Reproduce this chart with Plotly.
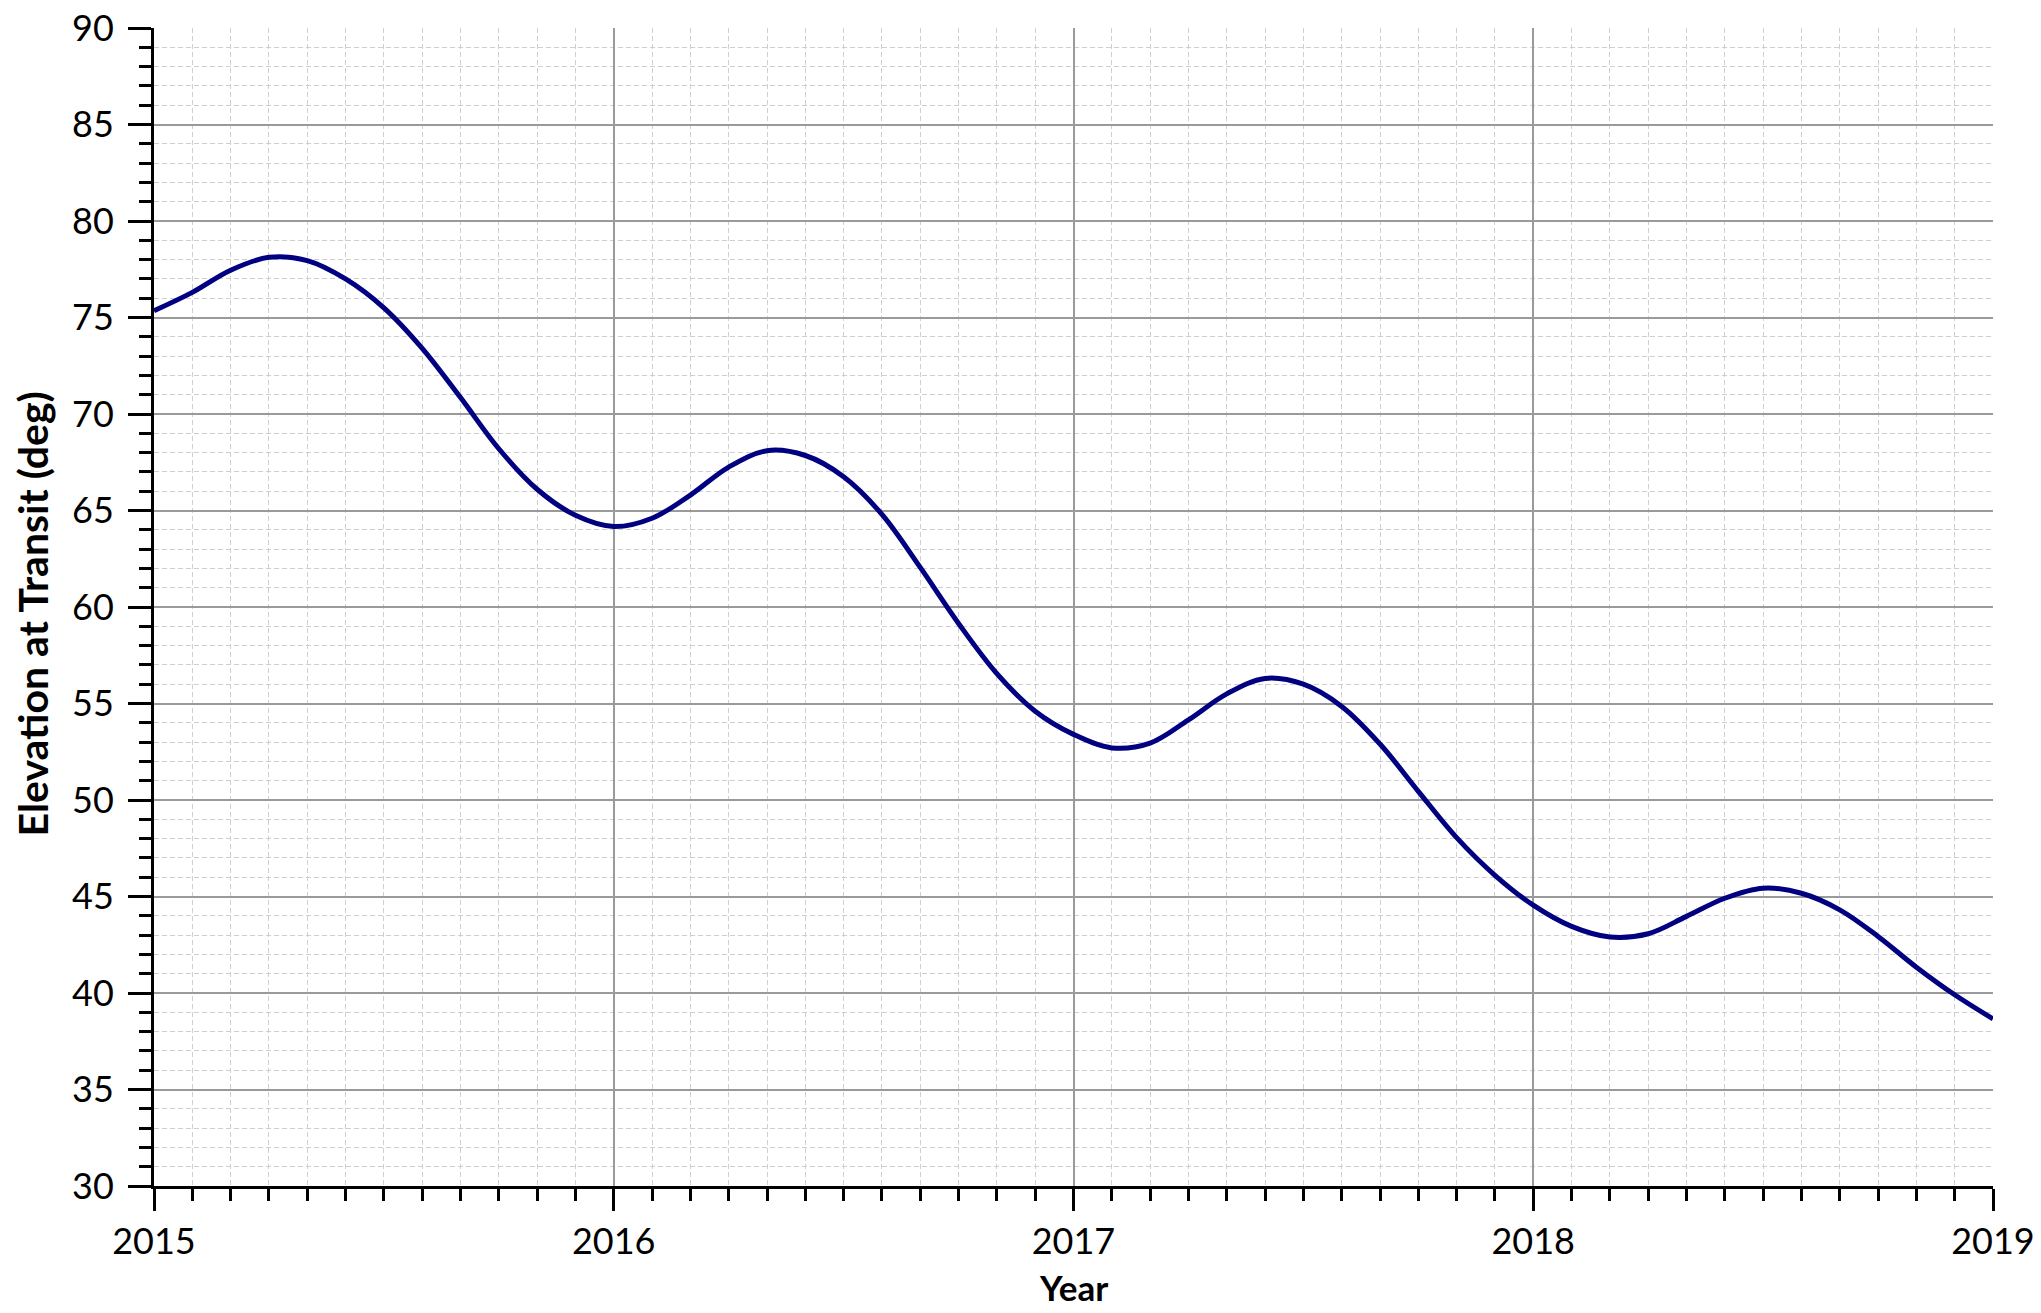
import plotly.graph_objects as go

# Decimal-year sample positions (monthly, Jan 2015 .. Jan 2019)
time_year = [round(2015 + i / 12, 5) for i in range(49)]

# Elevation at transit (deg) at monthly positions
elevation = [
    75.35, 76.3, 77.45, 78.12, 77.95, 77.0, 75.5, 73.4, 70.85, 68.2, 66.1, 64.75,
    64.17, 64.6, 65.8, 67.25, 68.1, 67.85, 66.75, 64.8, 62.05, 59.15, 56.55, 54.6,
    53.4, 52.7, 52.95, 54.15, 55.5, 56.3, 56.0, 54.85, 52.9, 50.45, 48.05, 46.1,
    44.55, 43.45, 42.9, 43.07, 43.97, 44.91, 45.43, 45.17, 44.31, 42.93, 41.34, 39.91,
    38.66,
]

x_tickvals = [2015, 2016, 2017, 2018, 2019]
x_ticktext = ["2015", "2016", "2017", "2018", "2019"]
y_tickvals = [30, 35, 40, 45, 50, 55, 60, 65, 70, 75, 80, 85, 90]
x_title = "Year"
y_title = "Elevation at Transit (deg)"

FONT = "Lato"

fig = go.Figure()
fig.add_trace(go.Scatter(
    x=time_year, y=elevation, mode="lines",
    line=dict(color="#000080", width=5, shape="spline", smoothing=1.0),
    hoverinfo="skip", showlegend=False,
))

# The page body adds an 8px offset; the figure is sized to compensate.
fig.update_layout(
    width=2033, height=1305,
    margin=dict(l=146, r=48, t=20, b=127, autoexpand=False),
    paper_bgcolor="white", plot_bgcolor="white",
    font=dict(family=FONT, color="black"),
    showlegend=False,
)

fig.update_xaxes(
    range=[2015, 2019], automargin=False,
    tickmode="array", tickvals=x_tickvals, ticktext=x_ticktext,
    ticks="outside", ticklen=22, tickwidth=3, tickcolor="black",
    tickfont=dict(family=FONT, size=36, color="black"),
    ticklabelstandoff=0, ticklabeloverflow="allow",
    showline=True, linecolor="black", linewidth=3,
    showgrid=True, gridcolor="#9a9a9a", gridwidth=1.5,
    zeroline=False,
    minor=dict(dtick=1 / 12, tick0=2015, ticks="outside", ticklen=12, tickwidth=3,
               tickcolor="black", showgrid=True, gridcolor="#cfcfcf", gridwidth=1,
               griddash="5px,3px"),
)

fig.update_yaxes(
    range=[30, 90], automargin=False,
    tickmode="array", tickvals=y_tickvals,
    ticks="outside", ticklen=23, tickwidth=3, tickcolor="black",
    tickfont=dict(family=FONT, size=36, color="black"),
    ticklabelstandoff=7, ticklabeloverflow="allow",
    showline=True, linecolor="black", linewidth=3,
    showgrid=True, gridcolor="#9a9a9a", gridwidth=1.5,
    zeroline=False,
    minor=dict(dtick=1, tick0=30, ticks="outside", ticklen=12, tickwidth=3,
               tickcolor="black", showgrid=True, gridcolor="#cfcfcf", gridwidth=1,
               griddash="5px,3px"),
)

fig.add_annotation(
    text="<b>" + x_title + "</b>", xref="paper", yref="paper",
    x=0.5, y=-0.087, xanchor="center", yanchor="middle", showarrow=False,
    font=dict(family=FONT, size=35, color="black"),
)
fig.add_annotation(
    text="<b>" + y_title + "</b>", xref="paper", yref="paper",
    x=-0.0663, y=0.4935, xanchor="center", yanchor="middle", showarrow=False,
    textangle=-90, font=dict(family=FONT, size=41, color="black"),
)

fig.write_html("out.html")
